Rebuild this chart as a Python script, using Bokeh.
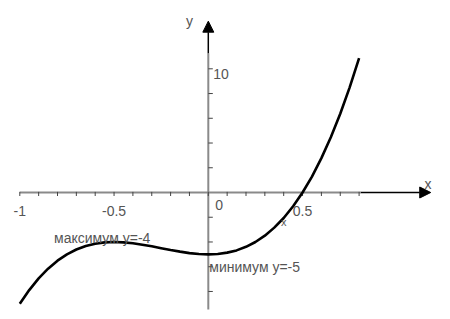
from bokeh.plotting import figure
from bokeh.models import Range1d, Arrow, NormalHead
from bokeh.core.properties import value
from bokeh.embed import file_html
from bokeh.resources import INLINE

# ---- data ----
curve_x = [-1.0, -0.95, -0.9, -0.85, -0.8, -0.75, -0.7, -0.65, -0.6, -0.55,
           -0.5, -0.45, -0.4, -0.35, -0.3, -0.25, -0.2, -0.15, -0.1, -0.05,
           0.0, 0.05, 0.1, 0.15, 0.2, 0.25, 0.3, 0.35, 0.4, 0.45,
           0.5, 0.55, 0.6, 0.65, 0.7, 0.75, 0.8]
curve_y = [-9.0, -7.89, -6.94, -6.16, -5.51, -5.0, -4.61, -4.32, -4.14, -4.03,
           -4.0, -4.03, -4.10, -4.22, -4.35, -4.5, -4.65, -4.78, -4.90, -4.97,
           -5.0, -4.97, -4.86, -4.68, -4.39, -4.0, -3.49, -2.84, -2.06, -1.11,
           0.0, 1.29, 2.78, 4.46, 6.37, 8.5, 10.87]

x_ticks = [-1.0, -0.9, -0.8, -0.7, -0.6, -0.5, -0.4, -0.3, -0.2, -0.1,
           0.0, 0.1, 0.2, 0.3, 0.4, 0.5, 0.6, 0.7, 0.8]
y_ticks = [-8, -6, -4, -2, 2, 4, 6, 8, 10]

x_label_pos = [-1.0, -0.5, 0.5]
x_label_txt = ["-1", "-0.5", "0.5"]
y_label_pos = [10]
y_label_txt = ["10"]

max_point = (-0.5, -4.0)
min_point = (0.0, -5.0)
max_text = "максимум y=-4"
min_text = "минимум y=-5"
marker_point = (0.4, -2.06)

# ---- figure ----
PX_X = 188.5   # pixels per x unit
PX_Y = 12.37   # pixels per y unit
x0 = -207.8 / PX_X
y1 = 192.0 / PX_Y

p = figure(width=450, height=319, output_backend="svg", toolbar_location=None,
           x_range=Range1d(x0, x0 + 450 / PX_X), y_range=Range1d(y1 - 319 / PX_Y, y1),
           x_axis_type=None, y_axis_type=None, min_border=0)
p.grid.visible = False
p.outline_line_color = None
p.background_fill_color = "white"
p.border_fill_color = "white"

GREY = "#8a8a8a"
TXT = "#555555"
FONT = value("Liberation Sans")

# axes: grey part
p.line([-1.0, 0.81], [0, 0], line_color=GREY, line_width=2)
p.line([0, 0], [-9.46, 11.25], line_color=GREY, line_width=2)
# black arrow parts
p.add_layout(Arrow(end=NormalHead(size=11, fill_color="black", line_color="black"),
                   x_start=0.81, y_start=0, x_end=1.18, y_end=0,
                   line_color="black", line_width=1.5))
p.add_layout(Arrow(end=NormalHead(size=11, fill_color="black", line_color="black"),
                   x_start=0, y_start=11.25, x_end=0, y_end=13.85,
                   line_color="black", line_width=1.5))

# ticks
p.segment(x0=x_ticks, y0=[0.05] * len(x_ticks), x1=x_ticks, y1=[-3.5 / PX_Y] * len(x_ticks),
          line_color="#444444", line_width=1)
p.segment(x0=[0] * len(y_ticks), y0=y_ticks, x1=[4.5 / PX_X] * len(y_ticks), y1=y_ticks,
          line_color="#444444", line_width=1)

# curve
p.line(curve_x, curve_y, line_color="black", line_width=2.6)

# tick labels
p.text(x=x_label_pos, y=[0] * len(x_label_pos), text=x_label_txt, text_font=FONT,
       text_font_size="14px", text_color=TXT, text_align="center",
       text_baseline="alphabetic", y_offset=18)
p.text(x=[0], y=[0], text=["0"], text_font=FONT, text_font_size="14px", text_color=TXT,
       text_align="left", text_baseline="alphabetic", x_offset=7, y_offset=12)
p.text(x=[0] * len(y_label_pos), y=y_label_pos, text=y_label_txt, text_font=FONT,
       text_font_size="14px", text_color=TXT, text_align="left",
       text_baseline="alphabetic", x_offset=5, y_offset=5)

# axis names
p.text(x=[1.166], y=[0], text=["x"], text_font=FONT, text_font_size="14px", text_color=TXT,
       text_align="center", text_baseline="alphabetic", y_offset=-9)
p.text(x=[-0.1], y=[13.9], text=["y"], text_font=FONT, text_font_size="14px", text_color=TXT,
       text_align="center", text_baseline="alphabetic")

# small x marker
p.text(x=[marker_point[0]], y=[marker_point[1]], text=["x"], text_font=FONT,
       text_font_size="11px", text_color=TXT, text_align="center",
       text_baseline="middle", y_offset=4, x_offset=0)

# extremum annotations
p.text(x=[max_point[0]], y=[max_point[1]], text=[max_text], text_font=FONT,
       text_font_size="14px", text_color=TXT, text_align="left",
       text_baseline="alphabetic", x_offset=-60, y_offset=-4)
p.text(x=[min_point[0]], y=[min_point[1]], text=[min_text], text_font=FONT,
       text_font_size="14px", text_color=TXT, text_align="left",
       text_baseline="alphabetic", x_offset=1, y_offset=13)

open("out.html", "w").write(file_html(p, INLINE))
